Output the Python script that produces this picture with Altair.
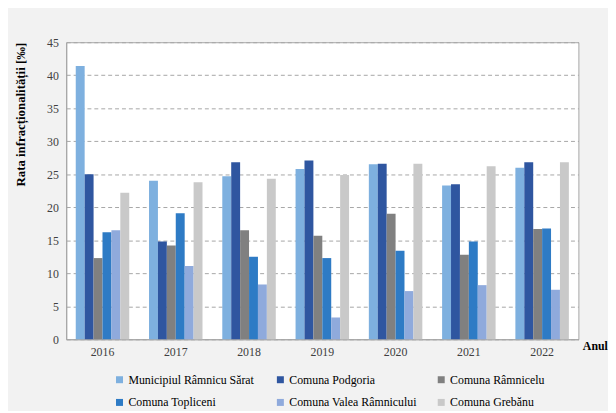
import altair as alt
import pandas as pd

years = ["2016", "2017", "2018", "2019", "2020", "2021", "2022"]
series = [
    "Municipiul Râmnicu Sărat",
    "Comuna Podgoria",
    "Comuna Râmnicelu",
    "Comuna Topliceni",
    "Comuna Valea Râmnicului",
    "Comuna Grebănu",
]
colors = ["#7eb0df", "#2f56a0", "#808080", "#2e7bc5", "#8faadc", "#c9c9c9"]

mun = [41.4, 24.0, 24.7, 25.8, 26.5, 23.3, 26.0]
podgoria = [25.0, 14.8, 26.8, 27.1, 26.6, 23.5, 26.8]
ramnicelu = [12.3, 14.2, 16.5, 15.7, 19.0, 12.8, 16.7]
topliceni = [16.2, 19.1, 12.5, 12.3, 13.4, 14.8, 16.8]
valea = [16.5, 11.1, 8.3, 3.3, 7.3, 8.2, 7.5]
grebanu = [22.2, 23.8, 24.3, 24.9, 26.6, 26.2, 26.8]

values = [mun, podgoria, ramnicelu, topliceni, valea, grebanu]
rows = []
for s, vals in zip(series, values):
    for y, v in zip(years, vals):
        rows.append({"year": y, "series": s, "value": v})
df = pd.DataFrame(rows)

serif = "Liberation Serif"

bars = alt.Chart(df).mark_bar().encode(
    x=alt.X(
        "year:N",
        sort=years,
        scale=alt.Scale(paddingInner=0.27, paddingOuter=0.13),
        axis=alt.Axis(
            title="Anul",
            titleX=523,
            titleY=6,
            titleAlign="left",
            titleBaseline="middle",
            titleAngle=0,
            titleFont=serif,
            titleFontWeight="bold",
            titleFontSize=12,
            titleColor="#000000",
            labelAngle=0,
            labelFont=serif,
            labelFontSize=12,
            labelColor="#404040",
            labelPadding=7,
            ticks=False,
            domainColor="#a6a6a6",
        ),
    ),
    xOffset=alt.XOffset(
        "series:N", sort=series, scale=alt.Scale(paddingInner=0, paddingOuter=0)
    ),
    y=alt.Y(
        "value:Q",
        scale=alt.Scale(domain=[0, 45], nice=False),
        axis=alt.Axis(
            title="Rata infracționalității [‰]",
            values=list(range(0, 50, 5)),
            titleFont=serif,
            titleFontWeight="bold",
            titleFontSize=13,
            titleColor="#000000",
            titleAnchor="end",
            titlePadding=19,
            labelFont=serif,
            labelFontSize=12,
            labelColor="#404040",
            labelPadding=8,
            ticks=False,
            domainColor="#a6a6a6",
            gridColor="#a6a6a6",
            gridDash=[4, 3],
            grid=True,
        ),
    ),
    color=alt.Color(
        "series:N",
        sort=series,
        scale=alt.Scale(domain=series, range=colors),
        legend=alt.Legend(
            title=None,
            orient="none",
            legendX=48,
            legendY=336,
            direction="horizontal",
            columns=3,
            symbolType="square",
            symbolSize=50,
            symbolStrokeWidth=0,
            labelFont=serif,
            labelFontSize=12,
            labelColor="#000000",
            labelOffset=3,
            columnPadding=18,
            rowPadding=11,
            gridAlign="all",
            labelLimit=300,
        ),
    ),
)

chart = bars.properties(
    width=519,
    height=301,
    background="#f2f2f2",
    padding={"left": 59, "top": 32, "right": 30, "bottom": 70},
    autosize=alt.AutoSizeParams(type="none"),
).configure_view(fill="#ffffff", stroke="#a6a6a6", strokeWidth=1)

chart.save("out.html", embed_options={"renderer": "svg", "actions": False})
